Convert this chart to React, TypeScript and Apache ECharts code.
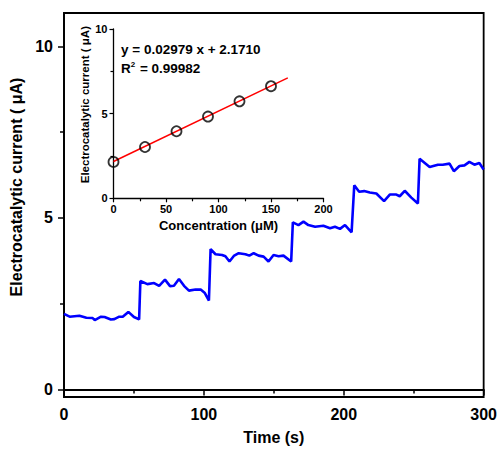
import React, { useEffect, useRef } from "react";
import * as echarts from "echarts";

// Main chart: amperometric response
const timeS = [
  0, 4, 11, 16, 20.5, 22, 26.5, 29, 33.5, 36, 39.5, 42, 46, 50, 53.7, 54.6, 59.6, 64.4, 68, 72.2,
  75.8, 78.6, 82.2, 85.8, 89.3, 94.1, 97.7, 100.7, 103.6, 104.8, 108.3, 113, 115.4, 118.3, 121.4,
  124.9, 129.7, 132.5, 135.6, 139.1, 142.7, 146.2, 149.8, 153.4, 156.9, 162.4, 163.6, 167.6, 171.2,
  174.7, 179.5, 185.4, 190.2, 193.7, 197.3, 200.9, 205.6, 207.5, 211, 214.6, 218.6, 223.3, 228.8,
  232.9, 237.6, 240, 243.6, 248.3, 253, 254.2, 261.4, 267.3, 270.8, 275.6, 278.7, 282.7, 286.3,
  289.8, 293.4, 296.9, 300,
];
const currentUA = [
  2.2, 2.12, 2.15, 2.09, 2.08, 2.02, 2.12, 2.11, 2.04, 2.05, 2.12, 2.12, 2.26, 2.11, 2.04, 3.16, 3.07,
  3.1, 3.02, 3.2, 3.01, 3.02, 3.22, 3.02, 2.88, 2.91, 2.91, 2.81, 2.59, 4.09, 3.94, 3.92, 3.88, 3.73,
  3.89, 3.97, 3.94, 3.9, 3.97, 3.9, 3.87, 3.73, 3.92, 3.88, 3.9, 3.73, 4.87, 4.79, 4.89, 4.79, 4.74,
  4.77, 4.7, 4.74, 4.68, 4.79, 4.58, 5.95, 5.76, 5.78, 5.74, 5.71, 5.49, 5.68, 5.68, 5.63, 5.79, 5.59,
  5.42, 6.72, 6.48, 6.55, 6.55, 6.58, 6.36, 6.51, 6.53, 6.63, 6.55, 6.6, 6.41,
];
const mainXTicks = [0, 100, 200, 300];
const mainXMinorTicks = [50, 150, 250];
const mainYTicks = [0, 5, 10];
const mainYMinorTicks = [2.5, 7.5];

// Inset: calibration plot
const concentrationUM = [0, 30, 60, 90, 120, 150];
const insetCurrentUA = [2.15, 3.03, 3.96, 4.83, 5.73, 6.62];
const fitSlope = 0.02979;
const fitIntercept = 2.171;
const fitRangeUM = [0, 166];
const fitEquation = "y = 0.02979 x + 2.1710";
const fitR2 = "0.99982";

const FONT = 'Arial, "Liberation Sans", sans-serif';

export default function App() {
  const ref = useRef<HTMLDivElement>(null);
  useEffect(() => {
    if (!ref.current) return;
    const chart = echarts.init(ref.current, null, { renderer: "svg" });
    const black = "#000";
    const mainLine = timeS.map((t, i) => [t, currentUA[i]]);
    const scatter = concentrationUM.map((c, i) => [c, insetCurrentUA[i]]);
    const fitLine = fitRangeUM.map((c) => [c, fitSlope * c + fitIntercept]);

    const option: any = {
      animation: false,
      backgroundColor: "#fff",
      textStyle: { fontFamily: FONT },
      grid: [
        { left: 64, top: 13, width: 423, height: 387, show: true, borderColor: black, borderWidth: 1.8, backgroundColor: "transparent" },
        { left: 113.5, top: 29, width: 210, height: 169.3 },
      ],
      xAxis: [
        {
          gridIndex: 0, type: "value", min: 0, max: 300, position: "bottom",
          axisLine: { lineStyle: { color: black, width: 1.8 } },
          axisTick: { show: true, customValues: mainXTicks, length: 6, lineStyle: { color: black, width: 1.5 } },
          axisLabel: { customValues: mainXTicks, color: black, fontWeight: "bold", fontSize: 16, fontFamily: FONT, margin: 9 },
          splitLine: { show: false },
          name: "Time (s)", nameLocation: "middle", nameGap: 32,
          nameTextStyle: { color: black, fontWeight: "bold", fontSize: 16, fontFamily: FONT },
        },
        {
          gridIndex: 0, type: "value", min: 0, max: 300, position: "bottom",
          axisLine: { show: false },
          axisTick: { show: true, customValues: mainXMinorTicks, length: 4, lineStyle: { color: black, width: 1.5 } },
          axisLabel: { show: false },
          splitLine: { show: false },
        },
        {
          gridIndex: 1, type: "value", min: 0, max: 200, interval: 50, position: "bottom",
          axisLine: { lineStyle: { color: black, width: 1.3 } },
          axisTick: { length: 4, lineStyle: { color: black, width: 1.2 } },
          minorTick: { show: true, splitNumber: 2, length: 3, lineStyle: { color: black, width: 1.2 } },
          axisLabel: { color: black, fontWeight: "bold", fontSize: 11, fontFamily: FONT, margin: 5 },
          splitLine: { show: false },
          name: "Concentration (μM)", nameLocation: "middle", nameGap: 21,
          nameTextStyle: { color: black, fontWeight: "bold", fontSize: 13, fontFamily: FONT },
        },
      ],
      yAxis: [
        {
          gridIndex: 0, type: "value", min: -0.22, max: 10.97, position: "left",
          axisLine: { lineStyle: { color: black, width: 1.8 } },
          axisTick: { show: true, customValues: mainYTicks, length: 6, lineStyle: { color: black, width: 1.5 } },
          axisLabel: { customValues: mainYTicks, color: black, fontWeight: "bold", fontSize: 16, fontFamily: FONT, margin: 11 },
          splitLine: { show: false },
          name: "Electrocatalytic current ( μA)", nameLocation: "middle", nameGap: 37, nameRotate: 90,
          nameTextStyle: { color: black, fontWeight: "bold", fontSize: 16, fontFamily: FONT, padding: [0, 0, 0, 36] },
        },
        {
          gridIndex: 0, type: "value", min: -0.22, max: 10.97, position: "left",
          axisLine: { show: false },
          axisTick: { show: true, customValues: mainYMinorTicks, length: 4, lineStyle: { color: black, width: 1.5 } },
          axisLabel: { show: false },
          splitLine: { show: false },
        },
        {
          gridIndex: 1, type: "value", min: 0, max: 10, interval: 5, position: "left",
          axisLine: { lineStyle: { color: black, width: 1.3 } },
          axisTick: { length: 4, lineStyle: { color: black, width: 1.2 } },
          minorTick: { show: true, splitNumber: 2, length: 3, lineStyle: { color: black, width: 1.2 } },
          axisLabel: { color: black, fontWeight: "bold", fontSize: 11, fontFamily: FONT, margin: 6 },
          splitLine: { show: false },
          name: "Electrocatalytic current ( μA)", nameLocation: "middle", nameGap: 22, nameRotate: 90,
          nameTextStyle: { color: black, fontWeight: "bold", fontSize: 11.5, fontFamily: FONT, padding: [0, 0, 0, 18] },
        },
      ],
      series: [
        {
          type: "line", xAxisIndex: 0, yAxisIndex: 0, data: mainLine, showSymbol: false,
          lineStyle: { color: "#0000ff", width: 2.6 }, z: 3,
        },
        {
          type: "line", xAxisIndex: 2, yAxisIndex: 2, data: fitLine, showSymbol: false,
          lineStyle: { color: "#ff0000", width: 1.5 }, z: 4,
        },
        {
          type: "scatter", xAxisIndex: 2, yAxisIndex: 2, data: scatter, symbol: "circle", symbolSize: 10,
          itemStyle: { color: "rgba(0,0,0,0)", borderColor: black, borderWidth: 1.8 }, z: 5,
        },
      ],
      graphic: [
        {
          type: "text", left: 121, top: 42, z: 10,
          style: {
            text: `{a|${fitEquation}}\n{a|R}{s|2}{a| = ${fitR2}}`,
            rich: {
              a: { fontSize: 13.5, fontWeight: "bold", fontFamily: FONT, fill: black, lineHeight: 19 },
              s: { fontSize: 8, fontWeight: "bold", fontFamily: FONT, fill: black, lineHeight: 19, padding: [0, 1, 8, 0] },
            },
          },
        },
      ],
    };
    chart.setOption(option);
    return () => chart.dispose();
  }, []);
  return <div ref={ref} style={{ width: 500, height: 450, position: "absolute", left: 0, top: 0 }} />;
}
